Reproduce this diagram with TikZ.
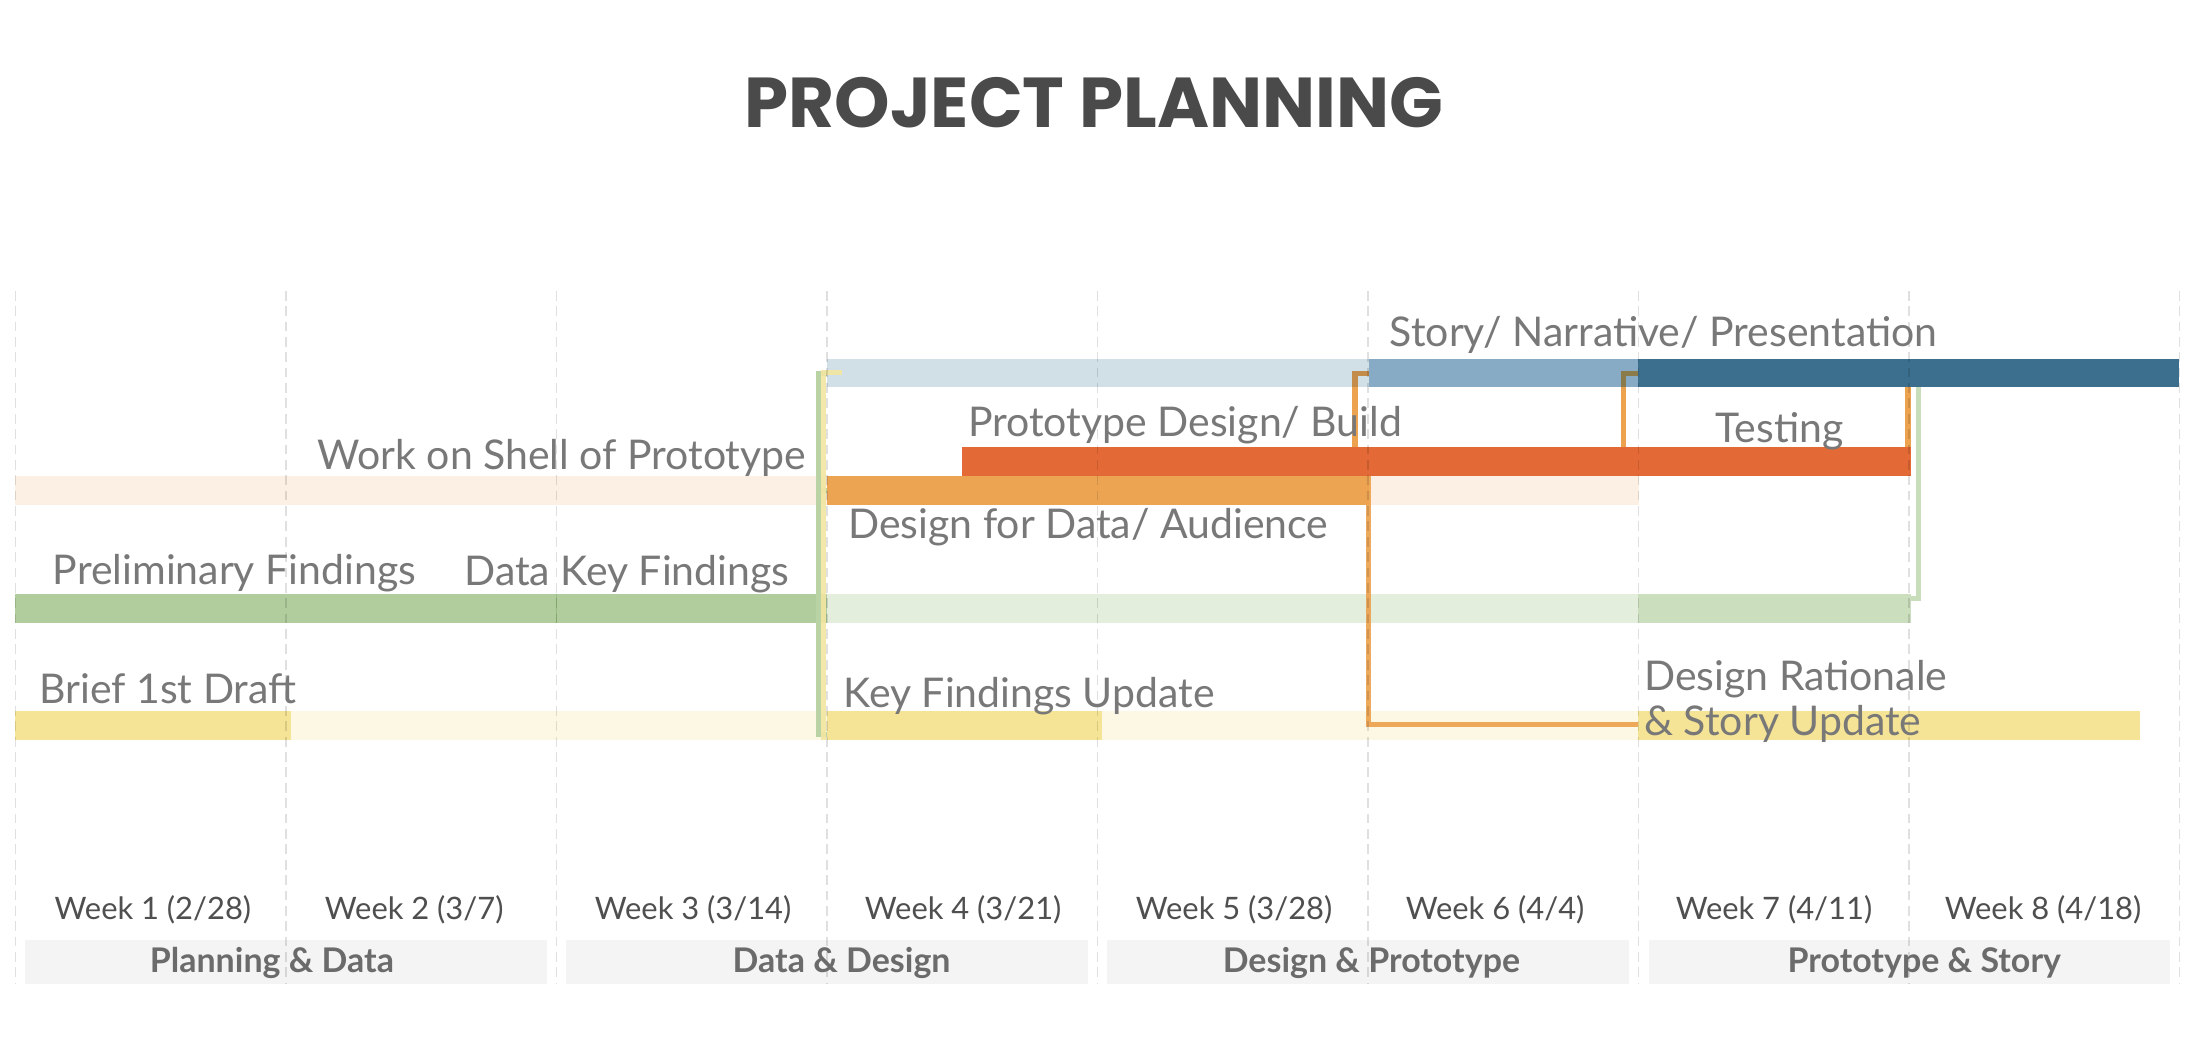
\documentclass[tikz,border=0pt]{standalone}
\usepackage{fontspec}
\setmainfont{Lato}
\newfontfamily\titlefont{Poppins}
\usetikzlibrary{calc}
\definecolor{lblue}{HTML}{D1DFE7}
\definecolor{mblue}{HTML}{87ABC5}
\definecolor{dblue}{HTML}{3C6F8E}
\definecolor{redbar}{HTML}{E36A36}
\definecolor{orgbar}{HTML}{ECA452}
\definecolor{peach}{HTML}{FBF0E3}
\definecolor{gdark}{HTML}{B1CD9D}
\definecolor{glight}{HTML}{E3EEDC}
\definecolor{gmed}{HTML}{CBDFBF}
\definecolor{gseam}{HTML}{94BC7E}
\definecolor{ybright}{HTML}{F5E495}
\definecolor{ypale}{HTML}{FDF8E4}
\definecolor{connorg}{HTML}{ECA24F}
\definecolor{brownA}{HTML}{C48C4B}
\definecolor{brownB}{HTML}{8B7A4A}
\definecolor{conngreen}{HTML}{B9D3A5}
\definecolor{conngreenB}{HTML}{C8DDB9}
\definecolor{connyel}{HTML}{F2E6A0}
\definecolor{labgray}{HTML}{787878}
\definecolor{weekgray}{HTML}{4F4F4F}
\definecolor{phasegray}{HTML}{6B6B6B}
\definecolor{phasebox}{HTML}{F4F4F4}
\definecolor{titlegray}{HTML}{4A4A4A}
\tikzset{
  bar/.style={anchor=north west, inner sep=0pt, outer sep=0pt, draw=none},
  conn/.style={line width=3.8pt, miter limit=10},
  gridline/.style={draw=black, opacity=0.12, line width=1.2pt, dash pattern=on 7pt off 4pt},
  lab/.style={anchor=base west, inner sep=0pt, text=labgray, font=\fontsize{29.3}{34}\selectfont},
  weeklab/.style={anchor=base, inner sep=0pt, text=weekgray, font=\fontsize{22.1}{26}\selectfont},
  phaselab/.style={anchor=base, inner sep=0pt, text=phasegray, font=\bfseries\fontsize{24.3}{28}\selectfont},
  phasebg/.style={anchor=north west, inner sep=0pt, outer sep=0pt, fill=phasebox, minimum width=373pt, minimum height=31.5pt}
}
\begin{document}
\begin{tikzpicture}[x=1pt,y=-1pt]
\useasboundingbox[fill=white] (0,0) rectangle (1568,749.7);

% title
\node[inner sep=0pt, anchor=base, text=titlegray, font=\titlefont\bfseries\fontsize{50.5}{58}\selectfont] (title) at (782.5,91) {PROJECT PLANNING};

% bars - blue row
\node[bar, fill=lblue, minimum width=388.2pt, minimum height=20pt] (lb) at (591.3,257) {};
\node[bar, fill=mblue, minimum width=192pt, minimum height=20pt] (mb) at (979.5,257) {};
\node[bar, fill=dblue, minimum width=387pt, minimum height=20pt] (db) at (1171.5,257) {};
% red row
\node[bar, fill=redbar, minimum width=678.5pt, minimum height=20.4pt] (red) at (688.2,320) {};
% peach / orange row
\node[bar, fill=peach, minimum width=1162pt, minimum height=20.6pt] (peach) at (10.5,340.4) {};
\node[bar, fill=orgbar, minimum width=388pt, minimum height=20.6pt] (org) at (591.5,340.4) {};
% green row
\node[bar, fill=gdark, minimum width=387.5pt, minimum height=20.6pt] (g1) at (10.5,424.8) {};
\node[bar, fill=gdark, minimum width=193.3pt, minimum height=20.6pt] (g2) at (398,424.8) {};
\node[bar, fill=glight, minimum width=580.7pt, minimum height=20.6pt] (gl) at (591.3,424.8) {};
\node[bar, fill=gmed, minimum width=194.7pt, minimum height=20.6pt] (gm) at (1172,424.8) {};
\draw[gseam, line width=1.2pt] (g2.north west) -- (g2.south west);
% yellow row
\node[bar, fill=ypale, minimum width=964pt, minimum height=21pt] (pale) at (208,508.5) {};
\node[bar, fill=ybright, minimum width=197.5pt, minimum height=21pt] (y1) at (10.5,508.5) {};
\node[bar, fill=ybright, minimum width=196.5pt, minimum height=21pt] (y2) at (591.5,508.5) {};
\node[bar, fill=ybright, minimum width=359pt, minimum height=21pt] (y3) at (1171.5,508.5) {};

% connector points
\coordinate (k1) at (969.3,267.2);
\coordinate (k2) at (1161.5,267.2);
\coordinate (k3) at (1364.9,300);
\coordinate (k4) at (979,518.3);
\coordinate (k5) at (1372.6,428);
\coordinate (k6) at (585.3,267);
\coordinate (k7) at (585.3,525.2);
\coordinate (k8) at (585.3,351);
\coordinate (k9) at (589,266.5);
\coordinate (k10) at (602,266.5);

% left green / yellow brackets
\draw[conn, conngreen, line width=3.5pt] (k6 -| lb.west) -- (k6) -- (k7) -- (k7 -| y2.west);
\draw[conn, conngreen, line width=3.5pt] (k8) -- (k8 -| org.west);
\draw[conn, connyel, opacity=0.9] (k9 |- y2.south) -- (k9) -- (k10);

% orange connectors
\draw[conn, connorg] (k1 |- red.north) -- (k1 |- lb.south);
\draw[conn, brownA] (k1 |- lb.south) -- (k1) -- (k1 -| mb.west);
\draw[conn, connorg] (k2 |- red.north) -- (k2 |- mb.south);
\draw[conn, brownB] (k2 |- mb.south) -- (k2) -- (k2 -| db.west);
\draw[conn, connorg] (k3 |- red.north) -- (k3 |- db.south);
\draw[conn, connorg, opacity=0.92] (k4 |- org.north) -- (k4) -- (k4 -| y3.west);

% right green connector
\draw[conn, conngreenB, line width=3.6pt] (k5 |- db.south) -- (k5) -- (k5 -| gm.east);

% phase boxes
\node[phasebg] (p1) at (18,672.2) {};
\node[phasebg] (p2) at (405,672.2) {};
\node[phasebg] (p3) at (792,672.2) {};
\node[phasebg] (p4) at (1179.5,672.2) {};

% grid lines
\foreach \i in {0,...,8} {
  \draw[gridline] ({11+193.5*\i},208) -- ({11+193.5*\i},704);
}

% phase labels
\node[phaselab] (pl1) at (194.5,695.7) {Planning \& Data};
\node[phaselab] (pl2) at (602,695.7) {Data \& Design};
\node[phaselab] (pl3) at (981,695.7) {Design \& Prototype};
\node[phaselab] (pl4) at (1376.5,695.7) {Prototype \& Story};

% week labels
\node[weeklab] (w1) at (109.4,658) {Week 1 (2/28)};
\node[weeklab] (w2) at (296.3,658) {Week 2 (3/7)};
\node[weeklab] (w3) at (495.8,658) {Week 3 (3/14)};
\node[weeklab] (w4) at (689,658) {Week 4 (3/21)};
\node[weeklab] (w5) at (882.8,658) {Week 5 (3/28)};
\node[weeklab] (w6) at (1069.5,658) {Week 6 (4/4)};
\node[weeklab] (w7) at (1269,658) {Week 7 (4/11)};
\node[weeklab] (w8) at (1461.5,658) {Week 8 (4/18)};

% task labels
\node[lab] (t1) at (994,248) {Story/ Narrative/ Presentation};
\node[lab] (t2) at (692.3,312.5) {Prototype Design/ Build};
\node[lab] (t3) at (1227,316.8) {Testing};
\node[lab] (t4) at (226.8,335.6) {Work on Shell of Prototype};
\node[lab] (t5) at (606.7,385.3) {Design for Data/ Audience};
\node[lab] (t6) at (37.6,418) {Preliminary Findings};
\node[lab] (t7) at (332,418.7) {Data Key Findings};
\node[lab] (t8) at (28,503.4) {Brief 1st Draft};
\node[lab] (t9) at (603.3,505.8) {Key Findings Update};
\node[lab] (t10) at (1176,493.9) {Design Rationale};
\node[lab] (t11) at (1176,526) {\& Story Update};
\end{tikzpicture}
\end{document}
